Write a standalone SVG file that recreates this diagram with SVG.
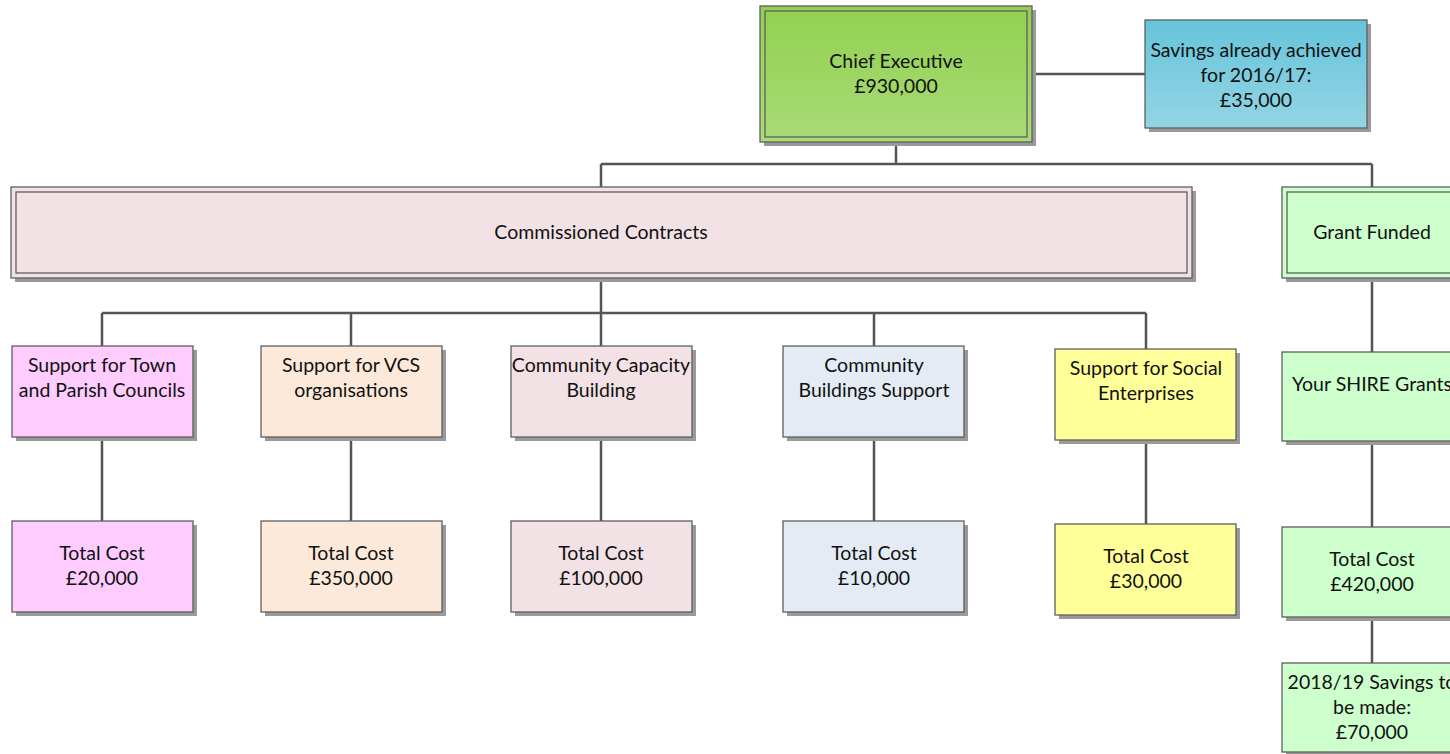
<svg xmlns="http://www.w3.org/2000/svg" width="1450" height="754" viewBox="0 0 1450 754">
  <style>
    .box { stroke: #5f5f5f; stroke-width: 1.3; }
    .inner { fill: none; stroke: #5f5f5f; stroke-width: 1.3; }
    .shadow { fill: #9a9a9a; }
    .lbl { font-family: Lato, "Liberation Sans", sans-serif; font-size: 19.5px; fill: #111; text-anchor: middle; }
    .conn { fill: none; stroke: #555; stroke-width: 2.5; }
  </style>
  <defs>
    <linearGradient id="gGreen" x1="0" y1="0" x2="0" y2="1">
      <stop offset="0" stop-color="#92d050"/>
      <stop offset="1" stop-color="#a9db76"/>
    </linearGradient>
    <linearGradient id="gBlue" x1="0" y1="0" x2="0" y2="1">
      <stop offset="0" stop-color="#66c4da"/>
      <stop offset="1" stop-color="#93d5e4"/>
    </linearGradient>
  </defs>
  <rect width="1450" height="754" fill="#ffffff"/>

  <!-- connectors -->
  <g id="connectors" class="conn">
    <path d="M1032,74 H1145"/>
    <path d="M896,142 V164 M601,164 H1372 M601,164 V187 M1372,164 V187"/>
    <path d="M601,278 V313 M102,313 H1146 M102,313 V346 M351,313 V346 M601,313 V346 M874,313 V346 M1146,313 V349"/>
    <path d="M102,437 V521 M351,437 V521 M601,437 V521 M874,437 V521 M1146,440 V524"/>
    <path d="M1372,278 V352 M1372,441 V527 M1372,617 V663"/>
  </g>

  <!-- Chief Executive -->
  <g id="chief">
    <rect class="shadow" x="764" y="10" width="272" height="136"/>
    <rect class="box" x="760" y="6" width="272" height="136" fill="url(#gGreen)"/>
    <rect class="inner" x="765" y="11" width="262" height="126"/>
    <text class="lbl" x="896" y="68">Chief Executive</text>
    <text class="lbl" x="896" y="93">£930,000</text>
  </g>

  <!-- Savings already achieved -->
  <g id="savings">
    <rect class="shadow" x="1149" y="24" width="222" height="108"/>
    <rect class="box" x="1145" y="20" width="222" height="108" fill="url(#gBlue)"/>
    <text class="lbl" x="1256" y="57">Savings already achieved</text>
    <text class="lbl" x="1256" y="82">for 2016/17:</text>
    <text class="lbl" x="1256" y="107">£35,000</text>
  </g>

  <!-- Commissioned Contracts -->
  <g id="commissioned">
    <rect class="shadow" x="15" y="191" width="1181" height="91"/>
    <rect class="box" x="11" y="187" width="1181" height="91" fill="#f2e2e5"/>
    <rect class="inner" x="16" y="192" width="1171" height="81"/>
    <text class="lbl" x="601" y="239">Commissioned Contracts</text>
  </g>

  <!-- Grant Funded -->
  <g id="grant">
    <rect class="shadow" x="1286" y="191" width="180" height="91"/>
    <rect class="box" x="1282" y="187" width="180" height="91" fill="#ccffcc"/>
    <rect class="inner" x="1287" y="192" width="170" height="81"/>
    <text class="lbl" x="1372" y="239">Grant Funded</text>
  </g>

  <!-- Support for Town and Parish Councils -->
  <g id="town-parish">
    <rect class="shadow" x="16" y="350" width="181" height="91"/>
    <rect class="box" x="12" y="346" width="181" height="91" fill="#ffccff"/>
    <text class="lbl" x="102" y="372">Support for Town</text>
    <text class="lbl" x="102" y="397">and Parish Councils</text>
  </g>

  <!-- Support for VCS organisations -->
  <g id="vcs">
    <rect class="shadow" x="265" y="350" width="181" height="91"/>
    <rect class="box" x="261" y="346" width="181" height="91" fill="#fde9d9"/>
    <text class="lbl" x="351" y="372">Support for VCS</text>
    <text class="lbl" x="351" y="397">organisations</text>
  </g>

  <!-- Community Capacity Building -->
  <g id="capacity">
    <rect class="shadow" x="515" y="350" width="181" height="91"/>
    <rect class="box" x="511" y="346" width="181" height="91" fill="#f2e2e5"/>
    <text class="lbl" x="601" y="372">Community Capacity</text>
    <text class="lbl" x="601" y="397">Building</text>
  </g>

  <!-- Community Buildings Support -->
  <g id="buildings">
    <rect class="shadow" x="787" y="350" width="181" height="91"/>
    <rect class="box" x="783" y="346" width="181" height="91" fill="#e4ebf5"/>
    <text class="lbl" x="874" y="372">Community</text>
    <text class="lbl" x="874" y="397">Buildings Support</text>
  </g>

  <!-- Support for Social Enterprises -->
  <g id="social">
    <rect class="shadow" x="1059" y="353" width="181" height="91"/>
    <rect class="box" x="1055" y="349" width="181" height="91" fill="#ffff99"/>
    <text class="lbl" x="1146" y="375">Support for Social</text>
    <text class="lbl" x="1146" y="400">Enterprises</text>
  </g>

  <!-- Your SHIRE Grants -->
  <g id="shire">
    <rect class="shadow" x="1286" y="356" width="180" height="89"/>
    <rect class="box" x="1282" y="352" width="180" height="89" fill="#ccffcc"/>
    <text class="lbl" x="1372" y="391">Your SHIRE Grants</text>
  </g>

  <!-- Total cost boxes -->
  <g id="cost-town">
    <rect class="shadow" x="16" y="525" width="181" height="91"/>
    <rect class="box" x="12" y="521" width="181" height="91" fill="#ffccff"/>
    <text class="lbl" x="102" y="560">Total Cost</text>
    <text class="lbl" x="102" y="585">£20,000</text>
  </g>
  <g id="cost-vcs">
    <rect class="shadow" x="265" y="525" width="181" height="91"/>
    <rect class="box" x="261" y="521" width="181" height="91" fill="#fde9d9"/>
    <text class="lbl" x="351" y="560">Total Cost</text>
    <text class="lbl" x="351" y="585">£350,000</text>
  </g>
  <g id="cost-capacity">
    <rect class="shadow" x="515" y="525" width="181" height="91"/>
    <rect class="box" x="511" y="521" width="181" height="91" fill="#f2e2e5"/>
    <text class="lbl" x="601" y="560">Total Cost</text>
    <text class="lbl" x="601" y="585">£100,000</text>
  </g>
  <g id="cost-buildings">
    <rect class="shadow" x="787" y="525" width="181" height="91"/>
    <rect class="box" x="783" y="521" width="181" height="91" fill="#e4ebf5"/>
    <text class="lbl" x="874" y="560">Total Cost</text>
    <text class="lbl" x="874" y="585">£10,000</text>
  </g>
  <g id="cost-social">
    <rect class="shadow" x="1059" y="528" width="181" height="91"/>
    <rect class="box" x="1055" y="524" width="181" height="91" fill="#ffff99"/>
    <text class="lbl" x="1146" y="563">Total Cost</text>
    <text class="lbl" x="1146" y="588">£30,000</text>
  </g>
  <g id="cost-shire">
    <rect class="shadow" x="1286" y="531" width="180" height="90"/>
    <rect class="box" x="1282" y="527" width="180" height="90" fill="#ccffcc"/>
    <text class="lbl" x="1372" y="566">Total Cost</text>
    <text class="lbl" x="1372" y="591">£420,000</text>
  </g>

  <!-- Savings to be made -->
  <g id="savings-1819">
    <rect class="shadow" x="1286" y="667" width="180" height="89"/>
    <rect class="box" x="1282" y="663" width="180" height="89" fill="#ccffcc"/>
    <text class="lbl" x="1372" y="689">2018/19 Savings to</text>
    <text class="lbl" x="1372" y="714">be made:</text>
    <text class="lbl" x="1372" y="739">£70,000</text>
  </g>
</svg>
